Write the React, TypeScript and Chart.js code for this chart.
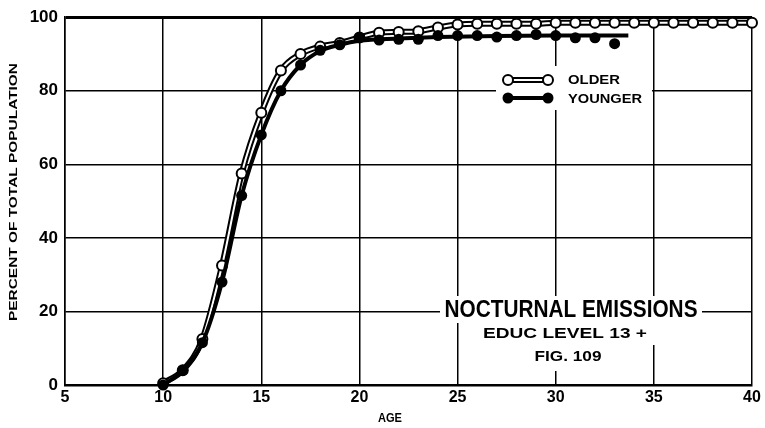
import React, { useEffect, useRef } from "react";
import { Chart, registerables } from "chart.js";

Chart.register(...registerables);

// ---- data ----
const olderAges = [10, 11, 12, 13, 14, 15, 16, 17, 18, 19, 20, 21, 22, 23, 24, 25, 26, 27, 28, 29, 30, 31, 32, 33, 34, 35, 36, 37, 38, 39, 40];
const olderValues = [0.5, 4, 12.5, 32.5, 57.5, 74, 85.5, 90, 92, 93, 94.5, 95.8, 96, 96.2, 97.2, 98, 98.2, 98.2, 98.2, 98.2, 98.5, 98.5, 98.5, 98.5, 98.5, 98.5, 98.5, 98.5, 98.5, 98.5, 98.5];

const youngerAges = [10, 11, 12, 13, 14, 15, 16, 17, 18, 19, 20, 21, 22, 23, 24, 25, 26, 27, 28, 29, 30, 31, 32, 33];
const youngerValues = [0, 4, 11.5, 28, 51.5, 68, 80, 87, 91, 92.5, 94.5, 93.8, 94, 94, 95, 95, 95, 94.6, 95, 95.3, 95, 94.4, 94.4, 92.8];

// smoothed line drawn through the younger group
const youngerCurveAges = [10, 11, 12, 13, 14, 15, 16, 17, 18, 19, 20, 22, 24, 27, 30, 33.7];
const youngerCurveValues = [0, 4, 11.5, 28, 51.5, 68, 80, 87, 90.8, 92.5, 93.6, 94.2, 94.6, 94.9, 95, 95];

const xTicks = [5, 10, 15, 20, 25, 30, 35, 40];
const yTicks = [0, 20, 40, 60, 80, 100];

const legendLabels = ["OLDER", "YOUNGER"];
const titleLines = ["NOCTURNAL EMISSIONS", "EDUC LEVEL 13 +", "FIG. 109"];
const xAxisTitle = "AGE";
const yAxisTitle = "PERCENT OF TOTAL POPULATION";

const FONT = "'Liberation Sans', 'DejaVu Sans', sans-serif";

const pts = (xs: number[], ys: number[]) => xs.map((x, i) => ({ x, y: ys[i] }));

function fitText(ctx: CanvasRenderingContext2D, text: string, cx: number, cy: number, size: number, width: number, rot = 0) {
  ctx.save();
  ctx.font = `bold ${size}px ${FONT}`;
  const w = ctx.measureText(text).width;
  ctx.translate(cx, cy);
  if (rot) ctx.rotate(rot);
  ctx.scale(width / w, 1);
  ctx.textAlign = "center";
  ctx.textBaseline = "middle";
  ctx.fillStyle = "#000";
  ctx.fillText(text, 0, 0);
  ctx.restore();
}

const annotations = {
  id: "annotations",
  beforeDatasetsDraw(chart: any) {
    const ctx = chart.ctx as CanvasRenderingContext2D;
    ctx.save();
    ctx.fillStyle = "#fff";
    // legend background
    ctx.fillRect(496, 66, 156, 44);
    // title block backgrounds
    ctx.fillRect(440, 296, 262, 27);
    ctx.fillRect(480, 323, 180, 22);
    ctx.fillRect(530, 345, 77, 26);
    ctx.restore();
  },
  afterDatasetsDraw(chart: any) {
    const ctx = chart.ctx as CanvasRenderingContext2D;
    ctx.save();
    // legend: older (double line with open circles)
    ctx.lineCap = "butt";
    ctx.strokeStyle = "#000";
    ctx.lineWidth = 6;
    ctx.beginPath();
    ctx.moveTo(508, 80);
    ctx.lineTo(548, 80);
    ctx.stroke();
    ctx.strokeStyle = "#fff";
    ctx.lineWidth = 2;
    ctx.beginPath();
    ctx.moveTo(508, 80);
    ctx.lineTo(548, 80);
    ctx.stroke();
    for (const x of [508, 548]) {
      ctx.beginPath();
      ctx.arc(x, 80, 5, 0, Math.PI * 2);
      ctx.fillStyle = "#fff";
      ctx.fill();
      ctx.lineWidth = 2;
      ctx.strokeStyle = "#000";
      ctx.stroke();
    }
    // legend: younger (solid line with filled circles)
    ctx.strokeStyle = "#000";
    ctx.lineWidth = 4;
    ctx.beginPath();
    ctx.moveTo(508, 98);
    ctx.lineTo(548, 98);
    ctx.stroke();
    for (const x of [508, 548]) {
      ctx.beginPath();
      ctx.arc(x, 98, 5.5, 0, Math.PI * 2);
      ctx.fillStyle = "#000";
      ctx.fill();
    }
    fitText(ctx, legendLabels[0], 594, 80, 13, 52);
    fitText(ctx, legendLabels[1], 605, 99, 13, 74);
    // title block
    fitText(ctx, titleLines[0], 571, 310, 24, 253);
    fitText(ctx, titleLines[1], 565, 334, 15, 164);
    fitText(ctx, titleLines[2], 568, 357, 14, 67);
    // axis titles
    fitText(ctx, xAxisTitle, 390, 418, 13, 24);
    fitText(ctx, yAxisTitle, 14, 192, 11, 258, -Math.PI / 2);
    ctx.restore();
  },
};

export default function App() {
  const ref = useRef<HTMLCanvasElement | null>(null);

  useEffect(() => {
    if (!ref.current) return;
    Chart.defaults.font.family = FONT;
    Chart.defaults.color = "#000";
    const chart = new Chart(ref.current, {
      type: "scatter",
      data: {
        datasets: [
          {
            label: "Younger points",
            data: pts(youngerAges, youngerValues),
            showLine: false,
            pointRadius: 5.5,
            pointBackgroundColor: "#000",
            pointBorderColor: "#000",
            pointBorderWidth: 0,
            order: 0,
            clip: false,
          } as any,
          {
            label: "Younger line",
            data: pts(youngerCurveAges, youngerCurveValues),
            showLine: true,
            borderColor: "#000",
            borderWidth: 4,
            pointRadius: 0,
            cubicInterpolationMode: "monotone",
            order: 1,
            clip: false,
          },
          {
            label: "Older",
            data: pts(olderAges, olderValues),
            showLine: true,
            borderColor: "#fff",
            borderWidth: 2,
            pointRadius: 5,
            pointBackgroundColor: "#fff",
            pointBorderColor: "#000",
            pointBorderWidth: 2,
            cubicInterpolationMode: "monotone",
            order: 2,
            clip: false,
          },
          {
            label: "Older outline",
            data: pts(olderAges, olderValues),
            showLine: true,
            borderColor: "#000",
            borderWidth: 6,
            pointRadius: 0,
            cubicInterpolationMode: "monotone",
            order: 3,
            clip: false,
          },
        ],
      },
      options: {
        responsive: false,
        animation: false,
        devicePixelRatio: 1,
        layout: { padding: { top: 15, right: 13, left: 0, bottom: 0 } },
        plugins: {
          legend: { display: false },
          tooltip: { enabled: false },
        },
        scales: {
          x: {
            type: "linear",
            min: 5,
            max: 40,
            afterBuildTicks: (scale: any) => {
              scale.ticks = xTicks.map((v) => ({ value: v }));
            },
            afterFit: (scale: any) => {
              scale.height = 43;
            },
            ticks: {
              font: { size: 16, weight: "bold" },
              color: "#000",
              padding: 3,
            },
            grid: {
              color: "#000",
              lineWidth: 1.5,
              drawTicks: false,
            },
            border: { color: "#000", width: 2.5 },
            title: { display: false },
          },
          y: {
            type: "linear",
            min: 0,
            max: 100,
            afterBuildTicks: (scale: any) => {
              scale.ticks = yTicks.map((v) => ({ value: v }));
            },
            afterFit: (scale: any) => {
              scale.width = 65;
            },
            ticks: {
              font: { size: 17, weight: "bold" },
              color: "#000",
              padding: 7,
            },
            grid: {
              color: "#000",
              lineWidth: (c: any) => (c.tick && c.tick.value === 100 ? 3 : 1.5),
              drawTicks: false,
            },
            border: { color: "#000", width: 1.5 },
            title: { display: false },
          },
        },
      },
      plugins: [annotations],
    });
    return () => chart.destroy();
  }, []);

  return (
    <div style={{ position: "fixed", left: 0, top: 0, width: 765, height: 428, background: "#fff" }}>
      <canvas ref={ref} width={765} height={428} style={{ display: "block" }} />
    </div>
  );
}
